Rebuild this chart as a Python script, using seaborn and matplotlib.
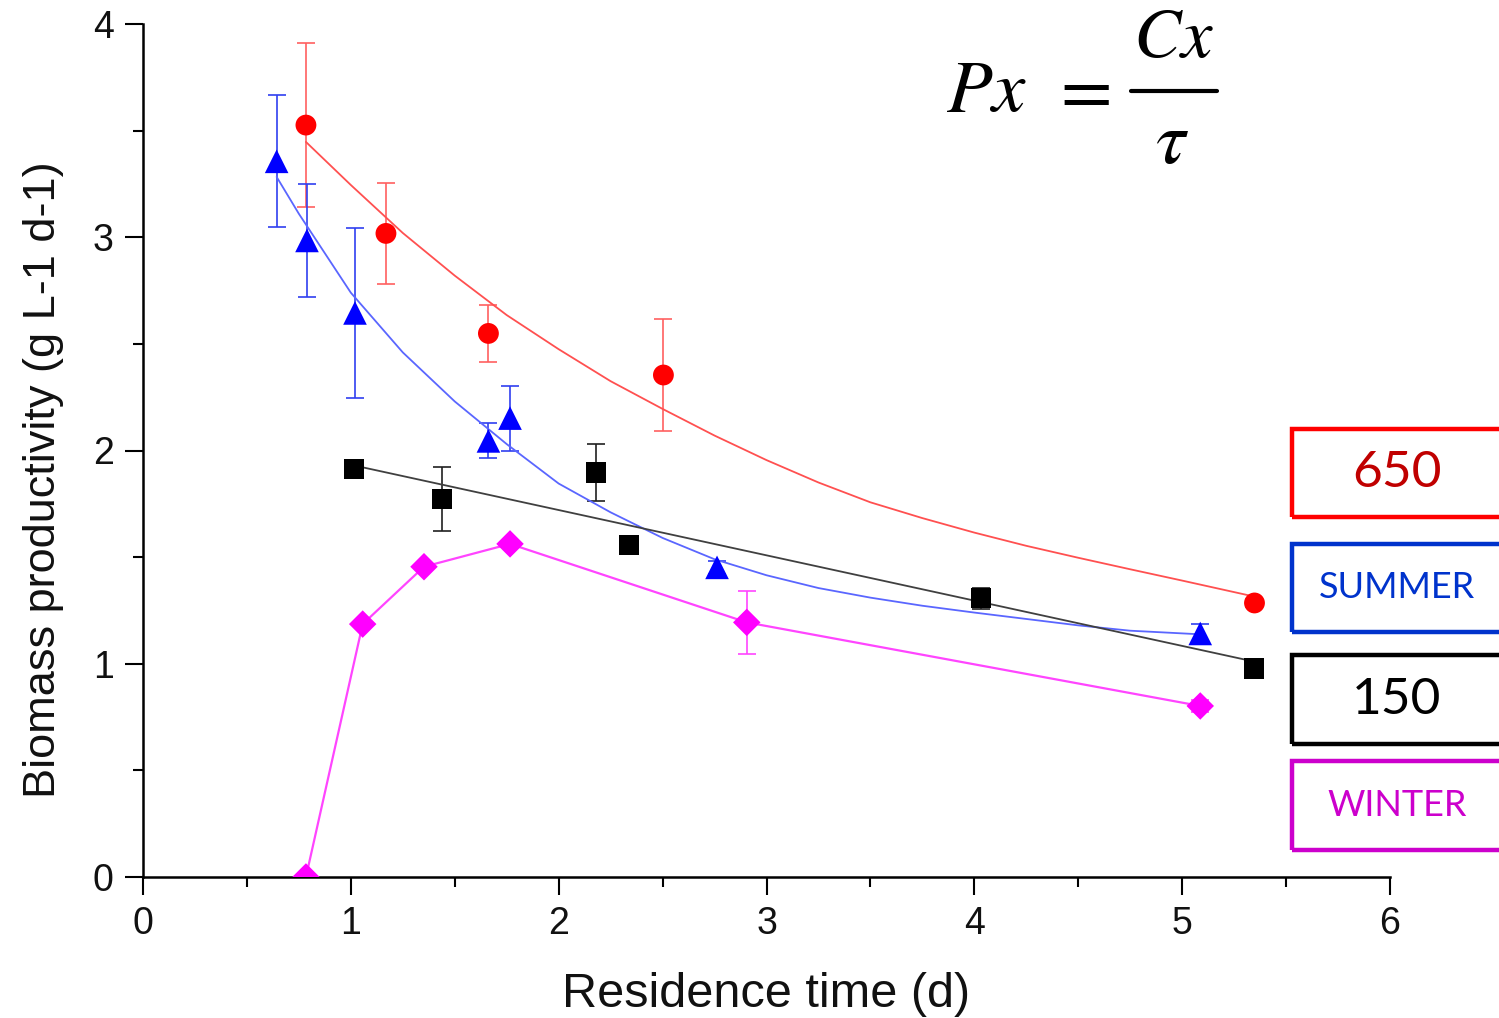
import numpy as np
import pandas as pd
import matplotlib
matplotlib.use("Agg")
import matplotlib.pyplot as plt
import seaborn as sns
from matplotlib.patches import Rectangle
from matplotlib.lines import Line2D
from matplotlib.ticker import MultipleLocator

# ---------------- data ----------------
red_x = [0.784, 1.169, 1.662, 2.504, 5.348]
red_y = [3.526, 3.018, 2.549, 2.354, 1.285]
red_err = [0.383, 0.235, 0.135, 0.264, 0.02]
red_fit_x = [0.784, 1.0, 1.25, 1.5, 1.75, 2.0, 2.25, 2.5, 2.75, 3.0, 3.25, 3.5,
             3.75, 4.0, 4.25, 4.5, 4.75, 5.0, 5.347]
red_fit_y = [3.447, 3.245, 3.02, 2.82, 2.635, 2.475, 2.325, 2.195, 2.07, 1.955, 1.85, 1.757,
             1.683, 1.615, 1.553, 1.497, 1.443, 1.39, 1.315]

blue_x = [0.643, 0.789, 1.02, 1.662, 1.766, 2.762, 5.087]
blue_y = [3.356, 2.985, 2.645, 2.045, 2.152, 1.452, 1.142]
blue_err = [0.31, 0.264, 0.397, 0.082, 0.152, 0.03, 0.044]
blue_fit_x = [0.643, 0.75, 1.0, 1.25, 1.5, 1.75, 2.0, 2.25, 2.5, 2.75, 3.0, 3.25,
              3.5, 3.75, 4.0, 4.25, 4.5, 4.75, 5.087]
blue_fit_y = [3.283, 3.11, 2.74, 2.46, 2.23, 2.03, 1.845, 1.71, 1.59, 1.49, 1.415, 1.355,
              1.31, 1.272, 1.24, 1.21, 1.18, 1.155, 1.138]

black_x = [1.015, 1.439, 2.18, 2.339, 4.033, 5.347]
black_y = [1.912, 1.772, 1.897, 1.557, 1.307, 0.978]
black_err = [0.0, 0.149, 0.135, 0.0, 0.05, 0.0]
black_fit_x = [1.015, 5.347]
black_fit_y = [1.93, 1.01]

mag_x = [0.784, 1.057, 1.352, 1.766, 2.905, 5.087]
mag_y = [0.0, 1.186, 1.455, 1.562, 1.194, 0.802]
mag_err = [0.0, 0.0, 0.0, 0.0, 0.146, 0.03]

x_ticks = [0, 1, 2, 3, 4, 5, 6]
y_ticks = [0, 1, 2, 3, 4]
x_label = "Residence time (d)"
y_label = "Biomass productivity (g L-1 d-1)"
legend_labels = ["650", "SUMMER", "150", "WINTER"]

# ---------------- style ----------------
sns.set_style("ticks")
plt.rcParams["font.family"] = ["Liberation Sans", "DejaVu Sans"]
plt.rcParams["mathtext.fontset"] = "stix"

W, H = 1499, 1018
fig = plt.figure(figsize=(W / 100, H / 100), dpi=100)
fig.patch.set_facecolor("white")
ax = fig.add_axes([143 / W, 1 - 877 / H, (1390 - 143) / W, (877 - 24) / H])
ax.set_facecolor("white")

series = [
    dict(x=red_x, y=red_y, e=red_err, fx=red_fit_x, fy=red_fit_y, m="o", s=15,
         mc="#FF0000", lc="#FF5050", ec="#FF6060", lw=1.3),
    dict(x=blue_x, y=blue_y, e=blue_err, fx=blue_fit_x, fy=blue_fit_y, m="^", s=17,
         mc="#0000FF", lc="#5A66FF", ec="#3040F0", lw=1.3),
    dict(x=black_x, y=black_y, e=black_err, fx=black_fit_x, fy=black_fit_y, m="s", s=14.5,
         mc="#000000", lc="#404040", ec="#202020", lw=1.3),
    dict(x=mag_x, y=mag_y, e=mag_err, fx=mag_x, fy=mag_y, m="D", s=14,
         mc="#FF00FF", lc="#FF45FF", ec="#FF45FF", lw=1.6),
]

for sd in series:
    ax.errorbar(sd["x"], sd["y"], yerr=sd["e"], fmt="none", ecolor=sd["ec"],
                elinewidth=1.2, capsize=6.5, capthick=1.2, zorder=2)
    fit_df = pd.DataFrame({"x": sd["fx"], "y": sd["fy"]})
    sns.lineplot(data=fit_df, x="x", y="y", ax=ax, color=sd["lc"], lw=sd["lw"],
                 sort=False, estimator=None, zorder=3)
    pt_df = pd.DataFrame({"x": sd["x"], "y": sd["y"]})
    sns.scatterplot(data=pt_df, x="x", y="y", ax=ax, marker=sd["m"], s=sd["s"] ** 2,
                    color=sd["mc"], edgecolor="none", linewidth=0, zorder=4)

ax.set_xlim(0, 6)
ax.set_ylim(0, 4)
ax.set_xticks(x_ticks)
ax.set_yticks(y_ticks)
ax.set_xticklabels([str(t) for t in x_ticks])
ax.set_yticklabels([str(t) for t in y_ticks])
ax.xaxis.set_minor_locator(MultipleLocator(0.5))
ax.yaxis.set_minor_locator(MultipleLocator(0.5))
ax.tick_params(which="major", direction="out", length=13, width=1.5, labelsize=27,
               pad=8, color="black", labelcolor="#111111")
ax.tick_params(which="minor", direction="out", length=7, width=1.5, color="black")
for side in ["top", "right"]:
    ax.spines[side].set_visible(False)
for side in ["left", "bottom"]:
    ax.spines[side].set_linewidth(1.8)
    ax.spines[side].set_color("black")

ax.set_xlabel(x_label, fontsize=35, color="#111111")
ax.set_ylabel(y_label, fontsize=32.5, color="#111111")
ax.xaxis.set_label_coords(0.5, (877 - 972) / 853)
ax.yaxis.set_label_coords((64 - 143) / 1247, (877 - 480) / 853)


def fx(px):
    return px / W


def fy(py):
    return 1 - py / H


# ---------------- formula ----------------
fig.text(fx(946), fy(112), r"$Px$", fontsize=54, ha="left", va="baseline", color="black")
fig.text(fx(1080), fy(112), r"$=$", fontsize=54, ha="center", va="baseline", color="black")
fig.add_artist(Line2D([fx(1131), fx(1217)], [fy(91), fy(91)], color="black", lw=3,
                      transform=fig.transFigure))
fig.text(fx(1173), fy(57), r"$Cx$", fontsize=51, ha="center", va="baseline", color="black")
fig.text(fx(1172), fy(163), r"$\tau$", fontsize=54, ha="center", va="baseline", color="black")

# ---------------- legend boxes ----------------
boxes = [
    (429, 517, "#FF0000", "#C00000", 37),
    (544, 632, "#0033CC", "#0033CC", 26),
    (655, 744, "#000000", "#000000", 37),
    (761, 850, "#CC00CC", "#CC00CC", 26),
]
for (top, bot, edge, tc, fs), lab in zip(boxes, legend_labels):
    fig.add_artist(Rectangle((fx(1292), fy(bot)), fx(1540) - fx(1292), fy(top) - fy(bot),
                             transform=fig.transFigure, fill=False, edgecolor=edge,
                             lw=3.2, clip_on=False))
    fig.text(fx(1397), fy((top + bot) / 2), lab, fontsize=fs, family=["Lato", "DejaVu Sans"],
             color=tc, ha="center", va="center")

fig.savefig("out.png", dpi=100, facecolor="white")
